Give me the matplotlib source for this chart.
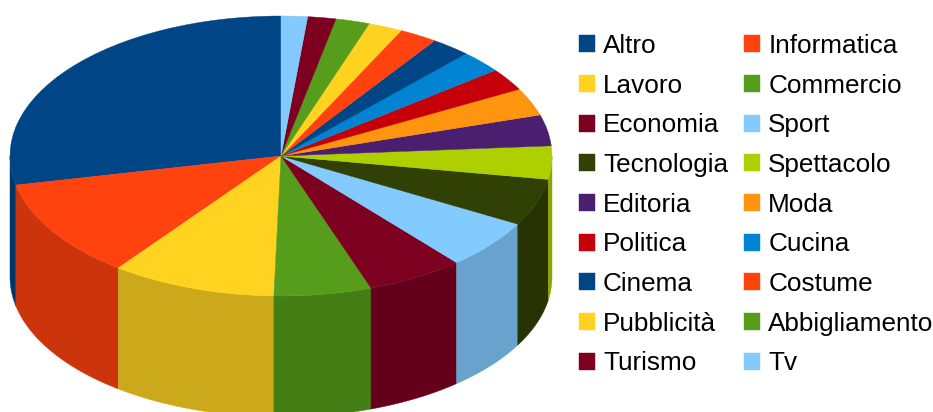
import numpy as np
import matplotlib
matplotlib.use("Agg")
import matplotlib.pyplot as plt
from matplotlib.colors import to_rgb

plt.rcParams['font.family'] = ['Liberation Sans', 'DejaVu Sans']

# shares of each topic, in percent
labels = ['Altro', 'Informatica', 'Lavoro', 'Commercio', 'Economia', 'Sport',
          'Tecnologia', 'Spettacolo', 'Editoria', 'Moda', 'Politica', 'Cucina',
          'Cinema', 'Costume', 'Pubblicità', 'Abbigliamento', 'Turismo', 'Tv']
values = [28.33, 11.42, 9.83, 5.81, 5.83, 5.69,
          5.42, 3.83, 3.58, 3.17, 2.58, 2.56,
          2.36, 2.28, 2.03, 2.03, 1.68, 1.57]

# office suite palette, twelve colours and then round again
palette = ['#004586', '#ff420e', '#ffd320', '#579d1c', '#7e0021', '#83caff',
           '#314004', '#aecf00', '#4b1f6f', '#ff950e', '#c5000b', '#0084d1']
colors = [palette[i % len(palette)] for i in range(len(values))]

W, H = 933, 412
cx, cy = 281, 156      # pie centre in pixels
rx, ry = 271, 140      # ellipse radii in pixels
depth = 121 / ry       # wall height in axes units

fig = plt.figure(figsize=(W / 100, H / 100), dpi=100)
ax = fig.add_axes([0, 0, 1, 1])

# top of the pie
wedges, _ = ax.pie(values, colors=colors, startangle=90, counterclock=True,
                   wedgeprops={'linewidth': 0.3})
for w, c in zip(wedges, colors):
    w.set_edgecolor(c)
    w.set_zorder(3)

# side wall, only the front half of every slice can be seen
for w, c in zip(wedges, colors):
    a, b = max(w.theta1, 180), min(w.theta2, 360)
    if b <= a:
        continue
    t = np.radians(np.linspace(a, b, 60))
    xs = np.cos(t)
    ys = np.sin(t)
    side = tuple(0.8 * v for v in to_rgb(c))
    ax.fill(np.r_[xs, xs[::-1]], np.r_[ys, ys[::-1] - depth],
            color=side, linewidth=0.3, zorder=2)

# unit circle stretched to the ellipse
ax.set_aspect('auto')
ax.set_xlim(-cx / rx, (W - cx) / rx)
ax.set_ylim(-(H - cy) / ry, cy / ry)
ax.axis('off')

# legend reads across the rows, matplotlib fills by column
order = list(range(0, len(labels), 2)) + list(range(1, len(labels), 2))
fig.legend([wedges[i] for i in order], [labels[i] for i in order],
           ncols=2, frameon=False, fontsize=18.8,
           loc='upper left', bbox_to_anchor=(579 / W, 1 - 34 / H),
           bbox_transform=fig.transFigure, borderpad=0, borderaxespad=0,
           handlelength=0.62, handleheight=0.62, handletextpad=0.3,
           columnspacing=0.615, labelspacing=0.6)

fig.savefig('out.png', dpi=100)
